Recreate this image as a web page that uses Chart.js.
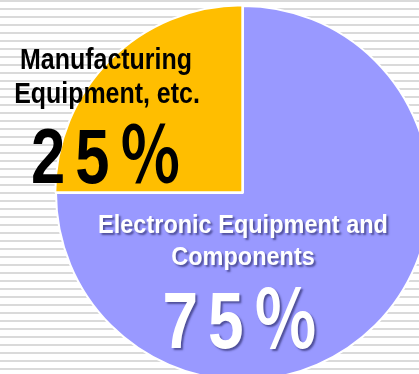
<!DOCTYPE html>
<html>
<head>
<meta charset="utf-8">
<script src="https://cdn.jsdelivr.net/npm/chart.js@4/dist/chart.umd.min.js"></script>
<style>
  html, body { margin: 0; padding: 0; }
  body {
    width: 419px; height: 374px; overflow: hidden;
    background: repeating-linear-gradient(to bottom, #dadada 0px, #dadada 2px, #ffffff 2px, #ffffff 8px);
  }
  #chartShare { display: block; }
</style>
</head>
<body>
<canvas id="chartShare" width="419" height="374"></canvas>
<script>
var categories = ['Electronic Equipment and\nComponents', 'Manufacturing\nEquipment, etc.'];
var shares = [75, 25];
var sliceColors = ['#9999ff', '#ffbe00'];

// draw a string char by char so it can be squeezed and spaced like the print type
function drawSpaced(ctx, str, cx, baseline, font, sx, spacing) {
    ctx.font = font;
    var widths = [], total = 0;
    for (var i = 0; i < str.length; i++) {
        var w = ctx.measureText(str[i]).width * sx;
        widths.push(w);
        total += w + (i ? spacing : 0);
    }
    var x = cx - total / 2;
    for (var j = 0; j < str.length; j++) {
        ctx.save();
        ctx.translate(x, baseline);
        ctx.scale(sx, 1);
        ctx.fillText(str[j], 0, 0);
        ctx.restore();
        x += widths[j] + spacing;
    }
}

function drawLine(ctx, str, cx, baseline, font, sx) {
    ctx.font = font;
    ctx.save();
    ctx.translate(cx, baseline);
    ctx.scale(sx, 1);
    ctx.textAlign = 'center';
    ctx.fillText(str, 0, 0);
    ctx.restore();
}

// full-width percent sign, falls back to the CJK face
function pct(v) {
    return v + '\uFF05';
}

var sliceLabels = {
    id: 'sliceLabels',
    afterDatasetsDraw: function(chart) {
        var ctx = chart.ctx;
        var arc = chart.getDatasetMeta(0).data[0];
        var c = { x: arc.x, y: arc.y };
        var bigFont = '"Liberation Sans", "Noto Sans CJK JP"';
        ctx.save();
        ctx.textBaseline = 'alphabetic';

        // small slice: dark text, no shadow
        ctx.fillStyle = '#000';
        var top = categories[1].split('\n');
        drawLine(ctx, top[0], c.x - 137, c.y - 124, 'bold 29px "Liberation Sans"', 0.86);
        drawLine(ctx, top[1], c.x - 136, c.y - 90, 'bold 29px "Liberation Sans"', 0.86);
        drawSpaced(ctx, pct(shares[1]), c.x - 137, c.y - 10, 'bold 77px ' + bigFont, 0.8, 10);

        // big slice: white text with a soft shadow
        ctx.fillStyle = '#fff';
        ctx.shadowColor = 'rgba(40, 40, 100, 0.65)';
        ctx.shadowOffsetX = 2;
        ctx.shadowOffsetY = 2;
        ctx.shadowBlur = 2;
        var bottom = categories[0].split('\n');
        drawLine(ctx, bottom[0], c.x, c.y + 40, 'bold 25px "Liberation Sans"', 0.94);
        drawLine(ctx, bottom[1], c.x, c.y + 72, 'bold 25px "Liberation Sans"', 0.94);
        drawSpaced(ctx, pct(shares[0]), c.x - 3, c.y + 155, 'bold 80px ' + bigFont, 0.8, 10);
        ctx.restore();
    }
};

var ctx = document.getElementById('chartShare');
var chartShare = new Chart(ctx, {
    type: 'pie',
    data: {
        labels: categories,
        datasets: [{
            data: shares,
            backgroundColor: sliceColors,
            borderColor: '#ffffff',
            borderWidth: 2,
            offset: [0, 4],
            hoverOffset: 0,
            clip: false
        }]
    },
    options: {
        responsive: false,
        animation: false,
        radius: 187,
        layout: { padding: { left: 67, top: 12 } },
        events: [],
        plugins: {
            legend: { display: false },
            tooltip: { enabled: false }
        }
    },
    plugins: [sliceLabels]
});
</script>
</body>
</html>
